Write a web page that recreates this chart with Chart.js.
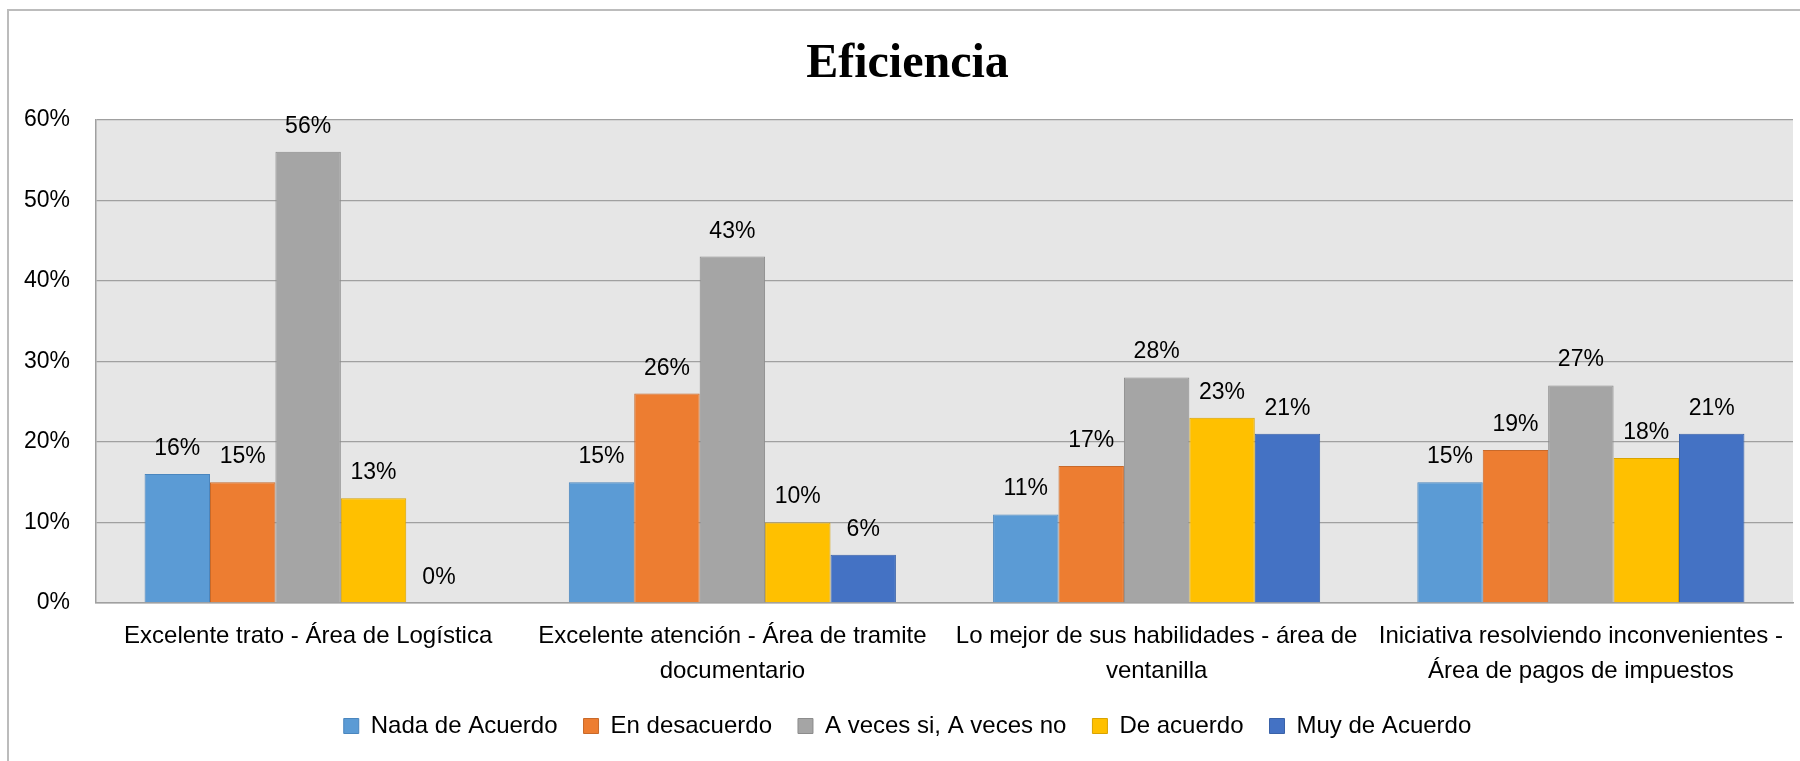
<!DOCTYPE html>
<html>
<head>
<meta charset="utf-8">
<script src="https://cdn.jsdelivr.net/npm/chart.js@4.4.1/dist/chart.umd.min.js"></script>
<style>
  html, body { margin: 0; padding: 0; background: #fff; }
  #wrap { position: relative; width: 1800px; height: 761px; }
</style>
</head>
<body>
<div id="wrap"><canvas id="chart" width="1800" height="761"></canvas></div>
<script>
var categories = [
  'Excelente trato - Área de Logística',
  ['Excelente atención - Área de tramite', 'documentario'],
  ['Lo mejor de sus habilidades - área de', 'ventanilla'],
  ['Iniciativa resolviendo inconvenientes -', 'Área de pagos de impuestos']
];
var seriesNames = ['Nada de Acuerdo', 'En desacuerdo', 'A veces si, A veces no', 'De acuerdo', 'Muy de Acuerdo'];
var nadaDeAcuerdo = [16, 15, 11, 15];
var enDesacuerdo = [15, 26, 17, 19];
var aVeces = [56, 43, 28, 27];
var deAcuerdo = [13, 10, 23, 18];
var muyDeAcuerdo = [0, 6, 21, 21];
var yMax = 60, yStep = 10;

var fills = ['#5B9BD5', '#ED7D31', '#A5A5A5', '#FFC000', '#4472C4'];
var edges = ['#4A86BE', '#C8692A', '#8C8C8C', '#D9A300', '#3A62A8'];
var values = [nadaDeAcuerdo, enDesacuerdo, aVeces, deAcuerdo, muyDeAcuerdo];

var sans = "'Liberation Sans', Arial, sans-serif";

var frame = {
  id: 'frame',
  beforeDraw: function(chart) {
    var ctx = chart.ctx, a = chart.chartArea;
    ctx.save();
    ctx.strokeStyle = '#bcbcbc';
    ctx.lineWidth = 2;
    ctx.strokeRect(8, 10, 1800, 800);
    ctx.fillStyle = '#e6e6e6';
    ctx.fillRect(a.left, a.top, a.right - a.left, a.bottom - a.top);
    ctx.restore();
  }
};

var valueLabels = {
  id: 'valueLabels',
  afterDatasetsDraw: function(chart) {
    var ctx = chart.ctx;
    ctx.save();
    ctx.font = '23px ' + sans;
    ctx.fillStyle = '#000';
    ctx.textAlign = 'center';
    ctx.textBaseline = 'alphabetic';
    chart.data.datasets.forEach(function(ds, i) {
      chart.getDatasetMeta(i).data.forEach(function(bar, j) {
        ctx.fillText(ds.data[j] + '%', bar.x, bar.y - 19);
      });
    });
    ctx.restore();
  }
};

new Chart(document.getElementById('chart').getContext('2d'), {
  type: 'bar',
  data: {
    labels: categories,
    datasets: seriesNames.map(function(name, i) {
      return { label: name, data: values[i], backgroundColor: fills[i], borderColor: edges[i], borderWidth: 1 };
    })
  },
  options: {
    responsive: false,
    animation: false,
    devicePixelRatio: 1,
    categoryPercentage: 0.771,
    barPercentage: 1,
    layout: { padding: { left: 22, right: 7, top: 10, bottom: 13 } },
    plugins: {
      title: {
        display: true, text: 'Eficiencia', color: '#000',
        font: { family: "'Liberation Serif', 'Times New Roman', serif", size: 48, weight: 'bold' },
        padding: { top: 26, bottom: 26 }
      },
      legend: {
        position: 'bottom',
        labels: {
          color: '#000', boxWidth: 15, boxHeight: 15, padding: 26,
          font: { family: sans, size: 24 }
        }
      },
      tooltip: { enabled: false }
    },
    scales: {
      x: {
        grid: { display: false, drawTicks: false },
        border: { display: true, color: '#a0a0a0', width: 1.5 },
        ticks: { color: '#000', font: { family: sans, size: 24, lineHeight: 1.45 }, padding: 16, maxRotation: 0, autoSkip: false },
        afterFit: function(scale) { scale.height = 85; }
      },
      y: {
        min: 0, max: yMax,
        grid: { color: '#a0a0a0', lineWidth: 1.3, drawTicks: false },
        border: { display: true, color: '#a0a0a0', width: 1.5 },
        ticks: { stepSize: yStep, color: '#000', font: { family: sans, size: 23 }, padding: 26, callback: function(v) { return v + '%'; } },
        afterFit: function(scale) { scale.width = 74; }
      }
    }
  },
  plugins: [frame, valueLabels]
});
</script>
</body>
</html>
